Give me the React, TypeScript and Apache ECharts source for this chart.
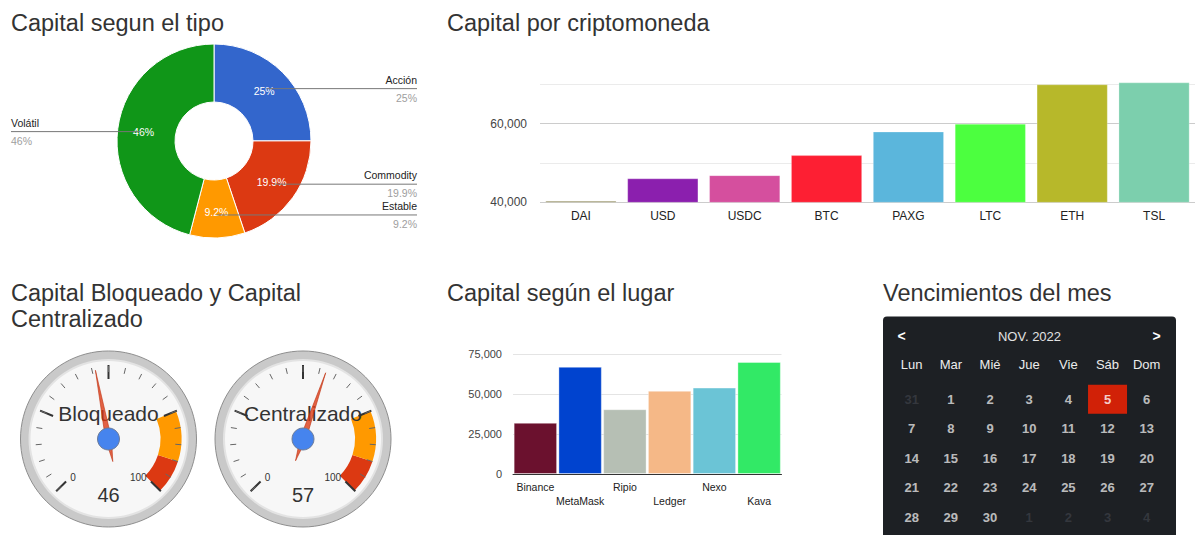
import React, { useEffect, useRef } from 'react';
import * as echarts from 'echarts';

const FONT = 'Arial, "Liberation Sans", Helvetica, sans-serif';

// ---------- Data ----------
const tipoNames = ['Acción', 'Commodity', 'Estable', 'Volátil'];
const tipoValues = [25, 19.9, 9.2, 46];
const tipoColors = ['#3366cc', '#dc3912', '#ff9900', '#109618'];

const cryptoNames = ['DAI', 'USD', 'USDC', 'BTC', 'PAXG', 'LTC', 'ETH', 'TSL'];
const cryptoValues = [40400, 46100, 46900, 52000, 58000, 60000, 70000, 70500];
const cryptoColors = ['#8d8755', '#8b1fae', '#d54f9e', '#fd1f33', '#5bb6dc', '#4cff3f', '#b7b82a', '#7ccfad'];
const cryptoAxis = { min: 40000, max: 70500, interval: 10000 };
const cryptoLabeledTicks = [40000, 60000];

const lugarNames = ['Binance', 'MetaMask', 'Ripio', 'Ledger', 'Nexo', 'Kava'];
const lugarValues = [32000, 67000, 40500, 52000, 54000, 70000];
const lugarColors = ['#6b112e', '#0043cf', '#b6bfb4', '#f5b887', '#6bc4d6', '#32e966'];
const lugarAxis = { min: 0, max: 75000, interval: 25000 };

const gaugeNames = ['Bloqueado', 'Centralizado'];
const gaugeValues = [46, 57];
const gaugeRange = { min: 0, max: 100 };
const gaugeBands = [[0.75, 'rgba(0,0,0,0)'], [0.9, '#ff9900'], [1, '#dc3912']];

const calTitle = 'NOV. 2022';
const calRange = ['2022-10-31', '2022-12-04'];
const calMonthIndex = 10; // November
const calHighlight = '2022-11-05';
const weekdayNames = ['Dom', 'Lun', 'Mar', 'Mié', 'Jue', 'Vie', 'Sáb'];

const titles = [
  { text: 'Capital segun el tipo', x: 11, y: 22.5 },
  { text: 'Capital por criptomoneda', x: 447, y: 22.5 },
  { text: 'Capital Bloqueado y Capital', x: 11, y: 292.8 },
  { text: 'Centralizado', x: 11, y: 319.2 },
  { text: 'Capital según el lugar', x: 447, y: 292.8 },
  { text: 'Vencimientos del mes', x: 883, y: 292.8 },
];

// ---------- Layout constants ----------
const PIE_C = [214, 141];
const PIE_R = [39, 97];
const PIE_ANCHOR_R = 74;
const PIE_LABEL_RIGHT = 417;
const PIE_LABEL_LEFT = 11;
const GAUGE_CENTERS = [[108.5, 439], [303, 439]];
const BAR1_BOTTOM = 202.3;
const BAR1_PX_PER_UNIT = 118 / 30000;

const fmt = (v: number) => v.toLocaleString('en-US');

function calendarDays() {
  const [s, e] = calRange.map((d) => {
    const [y, m, dd] = d.split('-').map(Number);
    return Date.UTC(y, m - 1, dd);
  });
  const out: { date: string; day: number; inMonth: boolean }[] = [];
  for (let t = s; t <= e; t += 86400000) {
    const d = new Date(t);
    const str = `${d.getUTCFullYear()}-${String(d.getUTCMonth() + 1).padStart(2, '0')}-${String(d.getUTCDate()).padStart(2, '0')}`;
    out.push({ date: str, day: d.getUTCDate(), inMonth: d.getUTCMonth() === calMonthIndex });
  }
  return out;
}

function buildOption(): any {
  const total = tipoValues.reduce((a, b) => a + b, 0);
  const pieLabelLayout = (p: any) => {
    const i = p.dataIndex;
    let before = 0;
    for (let k = 0; k < i; k++) before += tipoValues[k];
    const mid = ((before + tipoValues[i] / 2) / total) * Math.PI * 2;
    const ax = PIE_C[0] + PIE_ANCHOR_R * Math.sin(mid);
    const ay = PIE_C[1] - PIE_ANCHOR_R * Math.cos(mid);
    const right = Math.sin(mid) >= 0;
    const ex = right ? PIE_LABEL_RIGHT : PIE_LABEL_LEFT;
    return {
      x: ex,
      y: ay,
      align: right ? 'right' : 'left',
      verticalAlign: 'middle',
      labelLinePoints: [[ax, ay], [ax, ay], [ex, ay]],
    };
  };

  const days = calendarDays();
  const bar1Height = (cryptoAxis.max - cryptoAxis.min) * BAR1_PX_PER_UNIT;

  const graphics: any[] = [];
  titles.forEach((t) =>
    graphics.push({
      type: 'text', x: t.x, y: t.y, z: 5,
      style: { text: t.text, fill: '#333', font: `23.5px ${FONT}`, textAlign: 'left', textVerticalAlign: 'middle' },
    })
  );
  GAUGE_CENTERS.forEach((c) => {
    graphics.push({ type: 'circle', z: 0, shape: { cx: c[0], cy: c[1], r: 88 }, style: { fill: '#c9c9c9', stroke: '#8e8e8e', lineWidth: 1 } });
    graphics.push({ type: 'circle', z: 0, shape: { cx: c[0], cy: c[1], r: 80 }, style: { fill: '#e3e3e3' } });
    graphics.push({ type: 'circle', z: 0, shape: { cx: c[0], cy: c[1], r: 78 }, style: { fill: '#f7f7f7' } });
  });
  graphics.push({ type: 'rect', z: 0, shape: { x: 883, y: 316.5, width: 293, height: 240, r: 4 }, style: { fill: '#1d2024' } });
  graphics.push({ type: 'text', z: 5, x: 901.7, y: 336, style: { text: '<', fill: '#fff', font: `bold 14px ${FONT}`, textAlign: 'center', textVerticalAlign: 'middle' } });
  graphics.push({ type: 'text', z: 5, x: 1029.5, y: 336, style: { text: calTitle, fill: '#e2e2e2', font: `13px ${FONT}`, textAlign: 'center', textVerticalAlign: 'middle' } });
  graphics.push({ type: 'text', z: 5, x: 1156.7, y: 336, style: { text: '>', fill: '#fff', font: `bold 14px ${FONT}`, textAlign: 'center', textVerticalAlign: 'middle' } });

  const gaugeSeries = gaugeValues.map((v, i) => ({
    type: 'gauge',
    z: 3,
    center: GAUGE_CENTERS[i],
    radius: 73,
    startAngle: 225,
    endAngle: -45,
    min: gaugeRange.min,
    max: gaugeRange.max,
    splitNumber: 4,
    silent: true,
    axisLine: { lineStyle: { width: 21, color: gaugeBands } },
    splitLine: { distance: -22, length: 14, lineStyle: { color: '#333', width: 2 } },
    axisTick: { splitNumber: 5, distance: -21, length: 6, lineStyle: { color: '#666', width: 1 } },
    axisLabel: {
      distance: 27, fontSize: 10, color: '#333', fontFamily: FONT,
      formatter: (val: number) => (val === gaugeRange.min || val === gaugeRange.max ? String(val) : ''),
    },
    pointer: {
      icon: 'path://M3,0 L6,70 L3,93 L0,70 Z',
      length: 93, width: 6, offsetCenter: [0, 23],
      itemStyle: { color: 'rgba(220,57,18,0.78)', borderColor: 'rgba(190,45,12,0.9)', borderWidth: 0.6 },
    },
    anchor: { show: true, showAbove: true, size: 22, itemStyle: { color: '#4684ee', borderColor: '#6b7b99', borderWidth: 1 } },
    title: { offsetCenter: [0, -26], fontSize: 21, color: '#333', fontFamily: FONT },
    detail: { offsetCenter: [0, 56], fontSize: 20, fontWeight: 'normal', color: '#333', fontFamily: FONT, formatter: '{value}' },
    data: [{ value: v, name: gaugeNames[i] }],
  }));

  return {
    animation: false,
    textStyle: { fontFamily: FONT },
    graphic: { elements: graphics },
    grid: [
      { left: 540, top: BAR1_BOTTOM - bar1Height, width: 655, height: bar1Height },
      { left: 513, top: 354, width: 268.5, height: 120 },
    ],
    xAxis: [
      {
        gridIndex: 0, type: 'category', data: cryptoNames,
        axisLine: { show: false }, axisTick: { show: false },
        axisLabel: { margin: 8, fontSize: 12, color: '#222', fontFamily: FONT },
      },
      {
        gridIndex: 1, type: 'category', data: lugarNames,
        axisLine: { show: true, lineStyle: { color: '#333', width: 1 } }, axisTick: { show: false },
        axisLabel: {
          margin: 6, fontSize: 10.5, lineHeight: 14, color: '#222', fontFamily: FONT, interval: 0,
          formatter: (val: string, idx: number) => (idx % 2 ? '\n' + val : val),
        },
      },
    ],
    yAxis: [
      {
        gridIndex: 0, type: 'value', min: cryptoAxis.min, max: cryptoAxis.max, interval: cryptoAxis.interval,
        axisLine: { show: false }, axisTick: { show: false },
        splitLine: { lineStyle: { color: ['#cccccc', '#ebebeb', '#cccccc', '#ebebeb', 'rgba(0,0,0,0)'] } },
        axisLabel: {
          margin: 13, fontSize: 12, color: '#444', fontFamily: FONT,
          formatter: (val: number) => (cryptoLabeledTicks.includes(val) ? fmt(val) : ''),
        },
      },
      {
        gridIndex: 1, type: 'value', min: lugarAxis.min, max: lugarAxis.max, interval: lugarAxis.interval,
        axisLine: { show: false }, axisTick: { show: false },
        splitLine: { lineStyle: { color: '#e4e4e4' } },
        axisLabel: { margin: 11, fontSize: 11, color: '#444', fontFamily: FONT, formatter: (val: number) => fmt(val) },
      },
    ],
    calendar: {
      orient: 'vertical',
      left: 892.1,
      top: 384.5,
      cellSize: [39.17, 29.5],
      range: calRange,
      splitLine: { show: false },
      itemStyle: { color: 'rgba(0,0,0,0)', borderWidth: 0 },
      dayLabel: { firstDay: 1, nameMap: weekdayNames, position: 'start', margin: 13.5, color: '#ececec', fontSize: 13, fontFamily: FONT },
      monthLabel: { show: false },
      yearLabel: { show: false },
    },
    series: [
      {
        type: 'pie', z: 2, center: PIE_C, radius: PIE_R, startAngle: 90, clockwise: true, silent: true,
        avoidLabelOverlap: false,
        itemStyle: { borderColor: '#fff', borderWidth: 1 },
        label: { show: true, position: 'inside', formatter: (p: any) => p.value + '%', color: '#fff', fontSize: 10.5, fontFamily: FONT },
        labelLine: { show: false },
        data: tipoNames.map((n, i) => ({ name: n, value: tipoValues[i], itemStyle: { color: tipoColors[i] } })),
      },
      {
        type: 'pie', z: 3, center: PIE_C, radius: PIE_R, startAngle: 90, clockwise: true, silent: true,
        avoidLabelOverlap: false,
        itemStyle: { color: 'rgba(0,0,0,0)', borderWidth: 0 },
        label: {
          show: true, position: 'outside', alignTo: 'none',
          formatter: (p: any) => `{n|${p.name}}\n{p|${p.value}%}`,
          rich: {
            n: { color: '#222', fontSize: 10.5, lineHeight: 18, fontFamily: FONT },
            p: { color: '#9e9e9e', fontSize: 10.5, lineHeight: 18, fontFamily: FONT },
          },
        },
        labelLine: { show: true, length: 5, length2: 5, smooth: false, lineStyle: { color: '#777', width: 1 } },
        labelLayout: pieLabelLayout,
        data: tipoNames.map((n, i) => ({ name: n, value: tipoValues[i] })),
      },
      {
        type: 'bar', xAxisIndex: 0, yAxisIndex: 0, barCategoryGap: '13%', clip: true, silent: true,
        itemStyle: { borderColor: 'rgba(255,255,255,0.25)', borderWidth: 1 },
        data: cryptoValues.map((v, i) => ({ value: v, itemStyle: { color: cryptoColors[i] } })),
      },
      {
        type: 'bar', xAxisIndex: 1, yAxisIndex: 1, barCategoryGap: '3%', silent: true,
        itemStyle: { borderColor: 'rgba(255,255,255,0.35)', borderWidth: 1 },
        data: lugarValues.map((v, i) => ({ value: v, itemStyle: { color: lugarColors[i] } })),
      },
      ...gaugeSeries,
      {
        type: 'scatter', coordinateSystem: 'calendar', silent: true, z: 4,
        label: {
          show: true, position: 'inside', fontSize: 13, fontWeight: 'bold', fontFamily: FONT,
          formatter: (p: any) => String(p.value[1]),
        },
        data: days.map((d) => {
          const hl = d.date === calHighlight;
          return {
            value: [d.date, d.day],
            symbol: 'rect',
            symbolSize: hl ? [39, 29] : 1,
            itemStyle: { color: hl ? '#ff2200' : 'rgba(0,0,0,0)' },
            label: { color: hl ? '#ffffff' : d.inMonth ? '#e6e6e6' : '#3b3e44' },
          };
        }),
      },
    ],
  };
}

export default function App() {
  const ref = useRef<HTMLDivElement>(null);
  useEffect(() => {
    const chart = echarts.init(ref.current!, null, { renderer: 'svg' });
    chart.setOption(buildOption());
    return () => chart.dispose();
  }, []);
  return (
    <div
      ref={ref}
      style={{ position: 'absolute', left: 0, top: 0, width: 1200, height: 535, background: '#fff' }}
    />
  );
}
